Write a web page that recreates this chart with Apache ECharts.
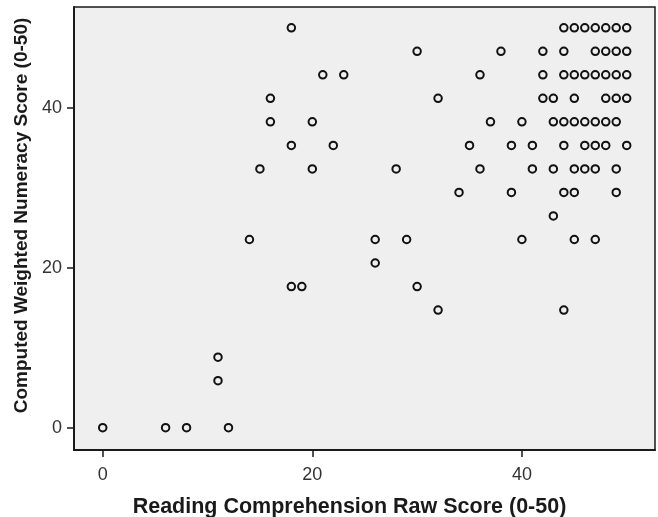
<!DOCTYPE html>
<html>
<head>
<meta charset="utf-8">
<script src="https://cdn.jsdelivr.net/npm/echarts@6/dist/echarts.min.js"></script>
<style>
html,body{margin:0;padding:0;background:#fff;}
#chart{width:658px;height:517px;}
</style>
</head>
<body>
<div id="chart"></div>
<script>
// Reading comprehension raw score (x) and computed weighted numeracy score (y)
const readingScores = [
  0, 6, 8, 12,
  11,
  11,
  32, 44,
  18, 19, 30,
  26,
  14, 26, 29, 40, 45, 47,
  43,
  34, 39, 44, 45, 49,
  15, 20, 28, 36, 41, 43, 45, 46, 47, 49,
  18, 22, 35, 39, 41, 44, 46, 47, 48, 50,
  16, 20, 37, 40, 43, 44, 45, 46, 47, 48, 49,
  16, 32, 42, 43, 45, 48, 49, 50,
  21, 23, 36, 42, 44, 45, 46, 47, 48, 49, 50,
  30, 38, 42, 44, 47, 48, 49, 50,
  18, 44, 45, 46, 47, 48, 49, 50
];
const numeracyScores = [
  0, 0, 0, 0,
  5.88,
  8.82,
  14.71, 14.71,
  17.65, 17.65, 17.65,
  20.59,
  23.53, 23.53, 23.53, 23.53, 23.53, 23.53,
  26.47,
  29.41, 29.41, 29.41, 29.41, 29.41,
  32.35, 32.35, 32.35, 32.35, 32.35, 32.35, 32.35, 32.35, 32.35, 32.35,
  35.29, 35.29, 35.29, 35.29, 35.29, 35.29, 35.29, 35.29, 35.29, 35.29,
  38.24, 38.24, 38.24, 38.24, 38.24, 38.24, 38.24, 38.24, 38.24, 38.24, 38.24,
  41.18, 41.18, 41.18, 41.18, 41.18, 41.18, 41.18, 41.18,
  44.12, 44.12, 44.12, 44.12, 44.12, 44.12, 44.12, 44.12, 44.12, 44.12, 44.12,
  47.06, 47.06, 47.06, 47.06, 47.06, 47.06, 47.06, 47.06,
  50, 50, 50, 50, 50, 50, 50, 50
];
const xTicks = [0, 20, 40];
const yTicks = [0, 20, 40];
const xTitle = 'Reading Comprehension Raw Score (0-50)';
const yTitle = 'Computed Weighted Numeracy Score (0-50)';

const points = readingScores.map((x, i) => [x, numeracyScores[i]]);

const chart = echarts.init(document.getElementById('chart'), null, {renderer: 'canvas'});
chart.setOption({
  animation: false,
  backgroundColor: '#ffffff',
  grid: {
    left: 74, right: 3, top: 7, bottom: 67,
    containLabel: false,
    outerBoundsMode: 'none',
    show: true,
    backgroundColor: '#efefef',
    borderColor: '#1a1a1a',
    borderWidth: 1.5
  },
  xAxis: {
    type: 'value',
    min: -2.74, max: 52.7,
    name: xTitle,
    nameLocation: 'middle',
    nameGap: 46,
    nameTextStyle: {
      fontFamily: 'Liberation Sans, Arial, sans-serif',
      fontWeight: 'bold', fontSize: 21.5, color: '#1a1a1a',
      padding: [0, 30, 0, 0]
    },
    axisLine: {show: true, onZero: false, lineStyle: {color: '#1a1a1a', width: 2}},
    axisTick: {show: true, customValues: xTicks, length: 7, lineStyle: {color: '#1a1a1a', width: 1.5}},
    axisLabel: {
      customValues: xTicks, margin: 16,
      fontFamily: 'Liberation Sans, Arial, sans-serif', fontSize: 18, color: '#333'
    },
    splitLine: {show: false}
  },
  yAxis: {
    type: 'value',
    min: -2.79, max: 52.6,
    name: yTitle,
    nameLocation: 'middle',
    nameGap: 40,
    nameTextStyle: {
      fontFamily: 'Liberation Sans, Arial, sans-serif',
      fontWeight: 'bold', fontSize: 19, color: '#1a1a1a',
      padding: [0, 0, 0, 26]
    },
    axisLine: {show: true, onZero: false, lineStyle: {color: '#1a1a1a', width: 2}},
    axisTick: {show: true, customValues: yTicks, length: 7, lineStyle: {color: '#1a1a1a', width: 1.5}},
    axisLabel: {
      customValues: yTicks, margin: 12,
      fontFamily: 'Liberation Sans, Arial, sans-serif', fontSize: 18, color: '#333'
    },
    splitLine: {show: false}
  },
  series: [{
    type: 'scatter',
    data: points,
    symbol: 'circle',
    symbolSize: 7.5,
    itemStyle: {color: 'rgba(0,0,0,0)', borderColor: '#111', borderWidth: 2, opacity: 1}
  }]
});
</script>
</body>
</html>
